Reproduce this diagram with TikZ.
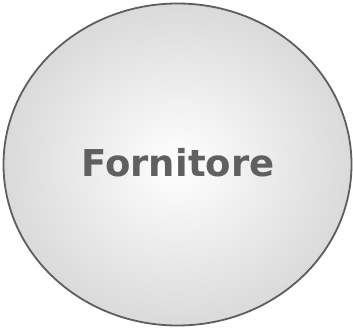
\documentclass[tikz,border=0pt]{standalone}
\usepackage{fontspec}
\setmainfont{DejaVu Sans}
\usetikzlibrary{shapes.geometric}
\definecolor{edgegray}{HTML}{5E5E5E}
\definecolor{textgray}{HTML}{606060}
\definecolor{outergray}{HTML}{DADADA}
\tikzset{
  entity/.style={ellipse, draw=edgegray, line width=1.8pt,
    inner color=white, outer color=outergray,
    minimum width=348pt, minimum height=322pt, inner sep=0pt},
  entitytext/.style={text=textgray, font=\bfseries\fontsize{37}{42}\selectfont}
}
\begin{document}
\begin{tikzpicture}[x=1pt,y=-1pt]
\useasboundingbox (0,0) rectangle (353,328);
\node[entity] (ell) at (177.5,164.5) {};
\node[entitytext] (lbl) at (178,163) {Fornitore};
\end{tikzpicture}
\end{document}
